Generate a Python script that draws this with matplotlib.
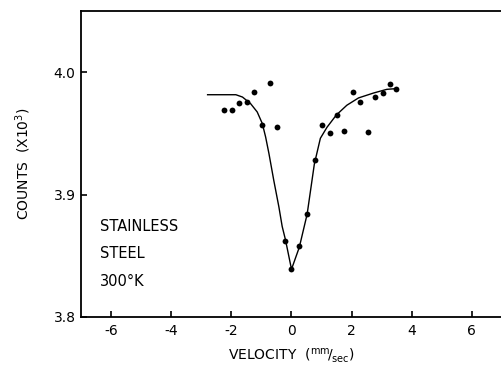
import matplotlib
matplotlib.use("Agg")
import matplotlib.pyplot as plt

plt.rcParams['axes.unicode_minus'] = False
plt.rcParams['font.family'] = ['DejaVu Sans']

# measured data points
vel = [-2.24, -1.98, -1.75, -1.49, -1.25, -0.73, -0.97, -0.49, -0.22, 0.0, 0.26,
       0.52, 0.77, 1.03, 1.27, 1.51, 1.75, 2.03, 2.27, 2.53, 2.78, 3.04, 3.28, 3.49]
counts = [3.969, 3.969, 3.975, 3.976, 3.984, 3.991, 3.957, 3.955, 3.862, 3.839, 3.858,
          3.884, 3.928, 3.957, 3.950, 3.965, 3.952, 3.984, 3.976, 3.951, 3.980, 3.983,
          3.990, 3.986]

# fitted curve
fit_vel = [-2.79, -1.85, -1.63, -1.36, -1.14, -0.97, -0.86, -0.75, -0.59, -0.42, -0.31,
           -0.20, 0.0, 0.26, 0.52, 0.76, 0.96, 1.18, 1.49, 1.84, 2.23, 2.73, 3.17, 3.44]
fit_counts = [3.9816, 3.9816, 3.9797, 3.9743, 3.9675, 3.958, 3.947, 3.9335, 3.9117,
              3.890, 3.874, 3.863, 3.839, 3.857, 3.884, 3.925, 3.946, 3.955, 3.965,
              3.973, 3.979, 3.983, 3.986, 3.9865]

xticks = [-6, -4, -2, 0, 2, 4, 6]
yticks = [3.8, 3.9, 4.0]

fig = plt.figure(figsize=(5.02, 3.76), dpi=100)
ax = fig.add_axes([81/502, 1-317/376, 1-81/502, (317-11)/376])

ax.plot(fit_vel, fit_counts, color='black', lw=1.0)
ax.plot(vel, counts, 'o', color='black', markersize=4.2, markeredgewidth=0)

ax.set_xlim(-7, 7)
ax.set_ylim(3.8, 4.05)
ax.set_xticks(xticks)
ax.set_xticklabels([str(t) for t in xticks])
ax.set_yticks(yticks)
ax.set_yticklabels(['3.8', '3.9', '4.0'])
ax.tick_params(direction='in', length=4, width=1.2, labelsize=10, pad=5)
ax.tick_params(axis='y', pad=4)
ax.spines['right'].set_visible(False)
for s in ['left', 'bottom', 'top']:
    ax.spines[s].set_linewidth(1.3)

ax.set_ylabel(r'COUNTS  (X10$^3$)', fontsize=10, labelpad=15)
ax.set_xlabel(r'VELOCITY  ($^{\mathrm{mm}}\!/_{\mathrm{sec}}$)', fontsize=10, labelpad=6)

for txt, y in [('STAINLESS', 3.874), ('STEEL', 3.8515), ('300°K', 3.829)]:
    ax.text(-6.38, y, txt, fontsize=10.5, va='center', ha='left')

fig.savefig('out.png', dpi=100)
